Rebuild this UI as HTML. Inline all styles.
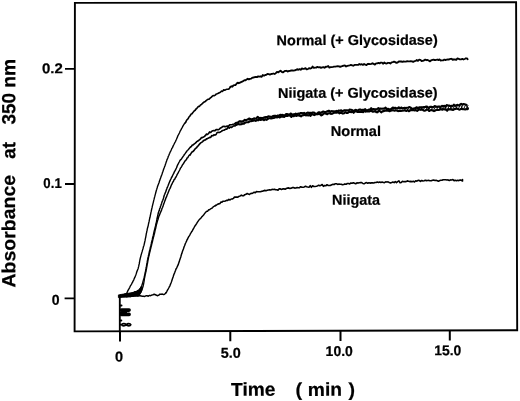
<!DOCTYPE html>
<html>
<head>
<meta charset="utf-8">
<title>Absorbance at 350 nm vs Time</title>
<style>
  html, body { margin: 0; padding: 0; background: #fff; }
  body { width: 520px; height: 401px; overflow: hidden; }
  svg { display: block; filter: grayscale(1); }
  text { font-family: "Liberation Sans", sans-serif; font-weight: bold; fill: #000; text-rendering: geometricPrecision; }
  .tick { font-size: 14px; }
  .lbl { font-size: 13px; }
  .xt { font-size: 18px; }
  .yt { font-size: 19.5px; }
</style>
</head>
<body>
<svg width="520" height="401" viewBox="0 0 520 401">
  <rect x="0" y="0" width="520" height="401" fill="#fff"/>

  <!-- plot frame (slightly skewed like the scan) -->
  <path d="M74.9 2.9 L516.1 2.3 L517.2 330.3 L74.6 331.4 Z" fill="none" stroke="#000" stroke-width="1.9"/>

  <!-- y ticks -->
  <path d="M65 68.9 H75 M65 184 H75 M64.6 298.3 H75" stroke="#000" stroke-width="1.8" fill="none"/>
  <!-- x ticks -->
  <path d="M120.0 331 V341.6 M230.3 331 V341.2 M340.5 330.6 V340.9 M449.8 330.3 V340.6" stroke="#000" stroke-width="2" fill="none"/>

  <!-- y tick labels -->
  <text transform="translate(41.90 73.30) rotate(-0.15) scale(1.0590 1)" font-size="14.2" stroke="#000" stroke-width="0.22" stroke-linejoin="round">0.2</text>
  <text transform="translate(43.37 188.10) rotate(-0.15) scale(0.9319 1)" font-size="14.2" stroke="#000" stroke-width="0.22" stroke-linejoin="round">0.1</text>
  <text transform="translate(51.84 304.70) rotate(-0.15) scale(0.9933 1)" font-size="14.2" stroke="#000" stroke-width="0.22" stroke-linejoin="round">0</text>

  <!-- x tick labels -->
  <text transform="translate(114.92 361.60) rotate(-0.15) scale(1.0230 1)" font-size="14.2" stroke="#000" stroke-width="0.22" stroke-linejoin="round">0</text>
  <text transform="translate(220.83 357.80) rotate(-0.15) scale(1.0156 1)" font-size="14.2" stroke="#000" stroke-width="0.22" stroke-linejoin="round">5.0</text>
  <text transform="translate(325.62 356.10) rotate(-0.15) scale(0.9861 1)" font-size="14.2" stroke="#000" stroke-width="0.22" stroke-linejoin="round">10.0</text>
  <text transform="translate(434.23 355.20) rotate(-0.15) scale(0.9823 1)" font-size="14.2" stroke="#000" stroke-width="0.22" stroke-linejoin="round">15.0</text>

  <!-- axis titles -->
  <text transform="translate(231.06 395.90) rotate(-0.15) scale(1.0217 1)" font-size="18.8" stroke="#000" stroke-width="0.22" stroke-linejoin="round">Time</text>
  <text transform="translate(295.50 395.90) rotate(-0.15) scale(1.0638 1)" font-size="18.8" stroke="#000" stroke-width="0.22" stroke-linejoin="round">(</text>
  <text transform="translate(307.75 395.90) rotate(-0.15) scale(1.0268 1)" font-size="18.8" stroke="#000" stroke-width="0.22" stroke-linejoin="round">min</text>
  <text transform="translate(348.45 395.90) rotate(-0.15) scale(1.0448 1)" font-size="18.8" stroke="#000" stroke-width="0.22" stroke-linejoin="round">)</text>

  <text transform="translate(15.30 287.49) rotate(-90.15) scale(1.0250 1)" font-size="19.0" stroke="#000" stroke-width="0.22" stroke-linejoin="round">Absorbance</text>
  <text transform="translate(15.30 158.77) rotate(-90.15) scale(0.9966 1)" font-size="19.0" stroke="#000" stroke-width="0.22" stroke-linejoin="round">at</text>
  <text transform="translate(15.30 124.53) rotate(-90.15) scale(1.0002 1)" font-size="19.0" stroke="#000" stroke-width="0.22" stroke-linejoin="round">350</text>
  <text transform="translate(15.30 87.75) rotate(-90.15) scale(1.0124 1)" font-size="19.0" stroke="#000" stroke-width="0.22" stroke-linejoin="round">nm</text>

  <!-- start line + pen squiggles -->
  <path d="M119.8 295 V331" stroke="#000" stroke-width="1.85" fill="none"/>
  <path d="M120.5 305.6 h1.0 M120.5 320.4 h0.8" stroke="#000" stroke-width="2.0" stroke-linecap="round" fill="none"/>
  <path d="M121.4 310.1 h7.7 M121.4 314.4 h7.7" stroke="#000" stroke-width="3.6" stroke-linecap="round" fill="none"/>
  <path d="M120 312.2 h7" stroke="#000" stroke-width="1.6" fill="none"/>
  <path d="M121.6 324.7 c0.5 -1.5 3.4 -1.5 4.6 0 c1.2 1.5 4.1 1.5 4.6 0 c-0.5 -1.5 -3.4 -1.5 -4.6 0 c-1.2 1.5 -4.1 1.5 -4.6 0 Z M120 324.7 h2" stroke="#000" stroke-width="1.7" fill="none"/>
  <!-- blob where traces leave the baseline -->
  <path d="M118.4 294.9 L126 293.6 L134.2 292.2 L138.8 290 L141.6 286 L142.4 288 L141.4 292 L139.2 295 L130 296.9 L118.4 297.6 Z" fill="#000" stroke="#000" stroke-width="0.8" stroke-linejoin="round"/>

  <!-- traces -->
  <path d="M119.5 296.0 L120.7 295.9 L121.9 295.4 L123.0 294.8 L124.2 294.6 L125.3 293.9 L126.2 293.7 L126.9 293.0 L127.5 291.5 L128.0 290.4 L128.6 289.5 L129.2 288.4 L129.8 287.3 L130.3 286.1 L130.9 285.2 L131.5 284.3 L132.1 282.9 L132.7 282.0 L133.2 280.8 L133.8 279.8 L134.2 278.6 L134.7 277.7 L135.2 276.5 L135.6 275.5 L136.0 274.4 L136.4 273.2 L136.8 271.8 L137.2 270.9 L137.6 269.8 L138.1 268.7 L138.4 267.4 L138.7 266.4 L138.9 265.1 L139.2 264.0 L139.4 263.0 L139.6 261.6 L139.8 260.5 L140.0 259.5 L140.3 258.1 L140.6 257.0 L140.9 255.9 L141.2 254.7 L141.6 253.4 L141.9 252.4 L142.2 251.4 L142.6 249.9 L142.9 249.0 L143.2 247.8 L143.5 246.5 L143.9 245.7 L144.2 244.4 L144.5 243.0 L144.7 242.0 L145.0 240.9 L145.2 239.6 L145.4 238.5 L145.7 237.3 L145.9 236.2 L146.1 235.1 L146.3 233.6 L146.6 232.6 L146.8 231.3 L147.1 230.2 L147.3 228.9 L147.6 227.8 L147.9 226.7 L148.2 225.6 L148.4 224.5 L148.7 223.0 L149.0 221.9 L149.2 220.9 L149.5 219.4 L149.7 218.4 L150.0 217.3 L150.2 216.3 L150.4 215.1 L150.7 213.8 L150.9 212.6 L151.2 211.4 L151.4 210.5 L151.7 209.0 L152.0 207.9 L152.2 206.8 L152.5 205.6 L152.8 204.4 L153.1 203.1 L153.4 202.1 L153.6 200.9 L153.9 199.9 L154.2 198.7 L154.5 197.4 L154.8 196.4 L155.1 195.1 L155.4 194.1 L155.7 192.8 L156.0 191.7 L156.4 190.3 L156.7 189.4 L157.1 188.0 L157.4 186.8 L157.8 185.9 L158.2 184.7 L158.6 183.7 L159.0 182.8 L159.4 181.3 L159.8 180.2 L160.2 179.1 L160.6 178.0 L161.0 176.8 L161.4 175.7 L161.8 174.7 L162.2 173.5 L162.6 172.2 L163.0 171.2 L163.4 170.1 L163.8 168.8 L164.2 167.8 L164.6 166.6 L165.0 165.7 L165.4 164.4 L165.8 163.3 L166.2 162.1 L166.6 161.0 L167.0 159.6 L167.5 158.6 L167.9 157.7 L168.3 156.3 L168.8 155.5 L169.3 154.1 L169.7 153.3 L170.2 152.0 L170.7 151.1 L171.2 150.0 L171.7 148.7 L172.3 147.9 L172.8 146.9 L173.3 145.6 L173.9 144.5 L174.4 143.5 L175.0 142.3 L175.5 141.5 L176.0 140.2 L176.5 139.2 L177.0 138.0 L177.5 136.9 L177.9 135.7 L178.4 134.9 L179.0 133.7 L179.5 132.7 L180.0 131.5 L180.6 130.4 L181.2 129.4 L181.7 128.3 L182.3 127.3 L182.9 126.2 L183.5 125.2 L184.2 124.0 L184.8 123.1 L185.5 122.6" fill="none" stroke="#000" stroke-width="1.38" stroke-linejoin="round" stroke-linecap="round"/>
<path d="M185.5 122.6 L186.2 121.1 L186.8 120.0 L187.5 119.3 L188.2 118.6 L188.9 117.0 L189.7 116.3 L190.4 115.3 L191.2 114.0 L192.0 113.8 L192.7 112.7 L193.5 111.8 L194.4 110.7 L195.2 110.2 L196.0 109.0 L196.9 108.3 L197.8 107.1 L198.7 106.3 L199.5 106.4 L200.5 104.9 L201.4 104.5 L202.3 103.6 L203.3 102.7 L204.2 102.0 L205.2 101.6 L206.1 100.6 L207.1 99.9 L208.1 99.3 L209.1 99.1 L210.1 98.2 L211.1 97.4 L212.1 96.4 L213.1 95.5 L214.1 95.7 L215.2 95.1 L216.2 94.1 L217.2 93.8 L218.3 93.3 L219.3 92.7 L220.4 92.2 L221.5 91.1 L222.6 91.4 L223.7 89.8 L224.8 90.2 L225.9 89.6 L227.0 89.3 L228.1 89.3 L229.2 88.7 L230.3 87.1" fill="none" stroke="#000" stroke-width="1.6" stroke-linejoin="round" stroke-linecap="round"/>
<path d="M230.3 87.1 L231.4 86.3 L232.4 86.7 L233.5 85.4 L234.5 85.2 L235.6 85.0 L236.7 83.5 L237.7 82.7 L238.8 83.2 L239.9 82.7 L241.0 82.1 L242.1 81.7 L243.3 80.9 L244.4 80.2 L245.5 80.3 L246.6 79.5 L247.7 78.8 L248.9 79.4 L250.0 78.8 L251.2 78.6 L252.3 77.7 L253.5 77.5 L254.7 77.1 L255.8 76.9 L257.0 77.1 L258.2 76.4 L259.3 76.6 L260.5 76.3 L261.7 76.8 L262.8 75.0 L264.0 75.7 L265.2 75.0 L266.3 74.8 L267.5 73.9 L268.7 74.2 L269.9 74.6 L271.1 74.0 L272.3 73.9 L273.4 73.5 L274.6 74.0 L275.8 73.2 L277.0 71.9 L278.2 72.4 L279.3 71.6 L280.5 70.7 L281.7 71.8 L282.9 72.4 L284.1 71.6 L285.2 70.9 L286.4 70.8 L287.6 71.6 L288.8 71.0 L290.0 70.8 L291.2 70.5 L292.4 70.4 L293.6 70.6 L294.7 70.3 L295.9 70.0 L297.1 69.2 L298.3 69.8 L299.5 69.1 L300.7 69.8 L301.9 68.5 L303.1 68.9 L304.3 68.8 L305.5 68.1 L306.6 69.4 L307.8 69.1 L309.0 68.1 L310.2 68.5 L311.4 68.2 L312.6 66.6 L313.8 67.9 L315.0 67.6 L316.2 67.6 L317.4 66.9 L318.6 67.3 L319.8 67.2 L321.0 67.8 L322.2 67.4 L323.4 67.1 L324.6 67.8 L325.8 66.7 L327.0 66.8 L328.2 66.0 L329.4 67.6 L330.6 67.2 L331.8 67.1 L333.0 66.9 L334.2 66.6 L335.4 66.6 L336.6 66.3 L337.8 66.2 L339.0 66.3 L340.2 66.9 L341.4 66.4 L342.5 66.0 L343.7 65.6 L344.9 65.5 L346.1 66.5 L347.3 65.9 L348.5 65.6 L349.7 65.3 L350.9 64.9 L352.1 65.3 L353.3 65.7 L354.5 64.9 L355.7 64.9 L356.9 64.9 L358.1 64.9 L359.3 64.0 L360.5 64.6 L361.7 64.2 L362.9 64.9 L364.1 64.0 L365.3 64.6 L366.5 65.0 L367.7 64.0 L368.9 63.8 L370.1 64.1 L371.3 63.9 L372.5 63.3 L373.7 63.9 L374.9 64.6 L376.1 63.4 L377.3 63.4 L378.5 62.9 L379.6 63.4 L380.8 62.6 L382.0 62.6 L383.2 63.7 L384.4 62.5 L385.6 63.4 L386.8 63.5 L388.0 62.8 L389.2 62.9 L390.4 63.5 L391.6 62.4 L392.8 62.1 L394.0 61.6 L395.2 62.2 L396.4 62.8 L397.6 62.5 L398.8 61.5 L400.0 61.5 L401.2 61.5 L402.4 61.9 L403.6 61.5 L404.8 61.6 L406.0 61.6 L407.2 61.2 L408.4 61.3 L409.6 61.3 L410.8 61.1 L412.0 61.3 L413.2 61.9 L414.4 61.2 L415.6 60.9 L416.8 60.0 L418.0 60.9 L419.2 59.7 L420.4 59.9 L421.6 61.0 L422.8 60.9 L424.0 60.4 L425.2 59.6 L426.4 60.2 L427.6 60.0 L428.8 60.6 L430.0 61.4 L431.2 60.3 L432.4 59.8 L433.6 59.6 L434.8 60.1 L436.0 60.0 L437.2 59.5 L438.4 60.1 L439.5 59.4 L440.7 60.5 L441.9 60.4 L443.1 60.4 L444.3 59.6 L445.5 60.0 L446.7 59.7 L447.9 59.5 L449.1 59.5 L450.3 58.9 L451.5 58.8 L452.7 59.9 L453.9 59.3 L455.1 59.5 L456.3 59.8 L457.5 58.4 L458.7 58.8 L459.9 59.3 L461.1 59.3 L462.3 58.9 L463.5 59.5 L464.7 59.0 L465.9 58.3 L467.1 58.4 L467.6 59.2" fill="none" stroke="#000" stroke-width="1.85" stroke-linejoin="round" stroke-linecap="round"/>
<path d="M119.5 296.2 L120.7 294.9 L121.9 296.1 L123.0 295.5 L124.2 295.6 L125.4 294.6 L126.5 294.3 L127.7 293.7 L128.9 295.1 L130.1 293.6 L131.2 294.1 L132.4 292.8 L133.5 292.8 L134.7 291.6 L135.8 291.7 L136.9 291.8 L138.0 290.3 L138.9 290.5 L139.7 289.4 L140.5 288.1 L141.1 287.2 L141.6 286.1 L142.0 285.1 L142.4 283.8 L142.7 282.6 L143.0 281.5 L143.3 280.3 L143.7 279.1 L144.0 278.1 L144.3 277.0 L144.5 275.6 L144.8 274.6 L145.0 273.3 L145.2 272.1 L145.5 271.2 L145.7 269.8 L145.9 268.9 L146.1 267.4 L146.4 266.4 L146.6 265.1 L146.8 263.9 L147.0 262.9 L147.2 261.6 L147.4 260.5 L147.7 259.2 L147.9 257.9 L148.2 256.9 L148.4 255.7 L148.7 254.7 L149.0 253.3 L149.2 252.2 L149.5 250.8 L149.8 250.0 L150.1 248.6 L150.3 247.3 L150.6 246.4 L150.9 245.4 L151.2 243.9 L151.4 242.7 L151.7 241.6 L152.0 240.4 L152.3 239.4 L152.5 238.1 L152.8 237.0 L153.1 235.9 L153.4 234.6 L153.6 233.6 L153.9 232.2 L154.2 231.0 L154.5 229.8 L154.7 229.1 L155.0 227.7 L155.3 226.6 L155.6 225.4 L155.8 224.2 L156.1 223.0 L156.4 222.1 L156.6 220.6 L156.9 219.3 L157.2 218.2" fill="none" stroke="#000" stroke-width="1.3" stroke-linejoin="round" stroke-linecap="round"/>
<path d="M157.2 218.2 L157.4 217.0 L157.7 216.1 L157.9 214.9 L158.2 213.5 L158.5 212.3 L158.9 211.3 L159.3 210.4 L159.7 208.7 L160.1 208.0 L160.4 206.7 L160.8 205.8 L161.2 204.4 L161.6 203.4 L162.0 202.1 L162.4 201.0 L162.8 200.2 L163.2 199.0 L163.6 197.7 L163.9 196.5 L164.3 195.2 L164.7 194.3 L165.1 193.2 L165.6 192.1 L166.0 190.9 L166.4 189.7 L166.8 188.7 L167.2 187.6 L167.7 186.6 L168.1 185.6 L168.6 184.2 L169.1 183.0 L169.5 182.0 L170.0 180.9 L170.5 179.8 L171.0 178.8 L171.5 177.5 L172.1 176.7 L172.6 175.5 L173.1 174.5 L173.7 173.4 L174.2 172.2 L174.8 171.1 L175.4 170.2 L175.9 169.0 L176.4 168.0 L176.9 166.9 L177.3 165.6 L177.8 164.7 L178.4 163.5 L178.9 162.5 L179.5 161.5 L180.2 160.1 L180.9 159.6 L181.6 158.7 L182.3 157.6 L183.0 156.6 L183.7 155.6 L184.4 154.5 L185.1 153.6 L185.8 152.6 L186.5 151.8 L187.2 150.5 L188.0 150.0 L188.8 149.0 L189.6 148.1 L190.4 147.1" fill="none" stroke="#000" stroke-width="1.45" stroke-linejoin="round" stroke-linecap="round"/>
<path d="M190.4 147.1 L191.3 146.6 L192.2 145.1 L193.1 145.0 L194.0 144.1 L195.0 143.4 L195.9 142.7 L196.8 141.6 L197.8 141.0 L198.7 140.5 L199.6 139.7 L200.6 138.9 L201.5 137.5 L202.5 137.6 L203.5 137.1 L204.5 136.4 L205.5 135.4 L206.5 134.1 L207.5 134.5 L208.6 133.5 L209.6 131.9 L210.7 132.5 L211.8 131.2 L212.8 130.8 L213.9 130.5 L215.0 130.8 L216.1 129.6 L217.2 129.5 L218.3 129.7 L219.4 129.1 L220.6 127.9 L221.7 127.4 L222.8 126.5 L223.9 126.4 L225.1 126.6 L226.3 126.4 L227.4 126.0 L228.6 126.1 L229.7 124.9 L230.8 124.8 L232.0 124.7 L233.1 124.2 L234.2 124.0 L235.4 123.4" fill="none" stroke="#000" stroke-width="1.65" stroke-linejoin="round" stroke-linecap="round"/>
<path d="M235.4 123.4 L236.5 122.7 L237.7 122.7 L238.8 121.8 L240.0 121.1 L241.1 121.8 L242.3 121.2 L243.5 121.1 L244.6 119.9 L245.8 120.2 L246.9 119.8 L248.1 119.3 L249.3 118.5 L250.5 119.1 L251.6 119.5 L252.8 119.1 L254.0 118.4 L255.2 118.5 L256.4 118.7 L257.6 116.8 L258.8 117.9 L260.0 118.0 L261.1 117.9 L262.3 118.3 L263.5 117.8 L264.7 117.3 L265.9 117.1 L267.1 117.2 L268.3 116.4 L269.5 116.5 L270.7 116.8 L271.8 117.1 L273.0 116.0 L274.2 115.9 L275.4 115.8 L276.6 116.3 L277.8 115.5 L279.0 116.1 L280.2 114.8 L281.4 115.1 L282.6 114.9 L283.8 115.3 L285.0 115.3 L286.2 114.0 L287.4 114.1 L288.6 114.7 L289.8 114.1 L290.9 113.5 L292.1 114.7 L293.3 114.3 L294.5 114.2 L295.7 113.6 L296.9 114.3 L298.1 113.6 L299.3 114.1 L300.5 113.1 L301.7 113.0 L302.9 113.5 L304.1 112.9 L305.3 113.6 L306.5 113.3 L307.7 112.6 L308.9 113.1 L310.1 112.8 L311.3 113.3 L312.5 112.5 L313.7 112.5 L314.9 113.2 L316.1 113.7 L317.3 113.5 L318.5 112.4 L319.7 112.4 L320.9 113.0 L322.1 112.1 L323.3 111.6 L324.5 112.0 L325.7 112.1 L326.9 111.4 L328.1 110.9 L329.3 110.9 L330.4 111.8 L331.6 111.1 L332.8 111.3 L334.0 111.4 L335.2 111.5 L336.4 110.9 L337.6 111.3 L338.8 110.5 L340.0 110.7 L341.2 110.3 L342.4 111.3 L343.6 110.6 L344.8 110.2 L346.0 110.3 L347.2 110.3 L348.4 110.7 L349.6 109.5 L350.8 109.7 L352.0 110.0 L353.2 111.3 L354.4 110.5 L355.6 109.9 L356.8 110.2 L358.0 110.8 L359.2 109.6 L360.4 109.5 L361.6 110.2 L362.8 109.8 L364.0 109.9 L365.2 109.2 L366.4 110.4 L367.6 110.2 L368.8 109.6 L370.0 109.6 L371.2 108.2 L372.4 109.5 L373.6 109.1 L374.8 109.3 L376.0 109.4 L377.2 108.9 L378.4 108.2 L379.6 109.1 L380.8 108.6 L382.0 108.7 L383.2 108.5 L384.4 108.6 L385.6 107.6 L386.8 109.3 L388.0 108.8 L389.2 109.2 L390.4 109.6 L391.6 108.6 L392.8 107.6 L394.0 108.0 L395.2 107.8 L396.4 108.2 L397.6 108.4 L398.8 107.3 L400.0 108.4 L401.2 107.5 L402.4 108.3 L403.6 108.1 L404.8 107.9 L406.0 108.0 L407.2 107.7 L408.4 107.6 L409.6 107.1 L410.8 107.8 L412.0 108.7 L413.2 108.7 L414.4 108.3 L415.6 108.0 L416.8 107.3 L418.0 108.2 L419.2 107.4 L420.4 107.4 L421.6 107.2 L422.7 107.4 L423.9 107.0 L425.1 107.1 L426.3 106.6 L427.5 106.9 L428.7 108.1 L429.9 106.9 L431.1 106.8 L432.3 107.1 L433.5 107.1 L434.7 106.1 L435.9 106.5 L437.1 107.0 L438.3 106.6 L439.5 106.5 L440.7 107.1 L441.9 105.9 L443.1 106.2 L444.3 105.9 L445.5 106.8 L446.7 105.0 L447.9 105.6 L449.1 105.5 L450.3 106.1 L451.5 105.9 L452.7 106.2 L453.9 104.7 L455.1 105.8 L456.3 105.2 L457.5 104.9 L458.7 105.4 L459.9 104.6 L461.1 103.9 L462.3 104.7 L463.5 104.0 L464.7 104.3 L465.9 104.7 L466.5 104.7" fill="none" stroke="#000" stroke-width="2.15" stroke-linejoin="round" stroke-linecap="round"/>
<path d="M119.5 297.6 L120.7 296.7 L121.9 296.0 L123.1 296.4 L124.3 296.2 L125.5 296.0 L126.7 296.8 L127.9 296.2 L129.1 295.5 L130.3 296.7 L131.5 296.2 L132.8 296.3 L134.1 296.0 L135.3 296.1 L136.5 295.5 L137.6 295.8 L138.6 295.1 L139.5 294.4 L140.2 293.4 L140.9 292.0 L141.4 291.1 L141.9 290.0 L142.3 288.9 L142.7 287.6 L143.0 286.8 L143.3 285.4 L143.6 284.1 L143.8 282.8 L144.0 281.8 L144.2 280.7 L144.4 279.4 L144.5 278.3 L144.8 277.1 L145.0 276.0 L145.2 274.7 L145.5 273.6 L145.7 272.6 L146.0 271.6 L146.2 270.0 L146.5 268.9 L146.7 267.6 L146.9 266.7 L147.1 265.2 L147.3 264.1 L147.6 263.0 L147.8 261.7 L148.0 260.5 L148.2 259.4 L148.5 258.0 L148.7 256.9 L149.0 255.9 L149.2 254.8 L149.5 253.6 L149.8 252.2 L150.1 251.2 L150.3 250.2 L150.6 249.0 L150.9 247.8 L151.2 246.5 L151.5 245.5 L151.8 244.2 L152.1 243.0 L152.4 241.9 L152.6 241.0 L152.9 239.7 L153.2 238.6 L153.5 237.2 L153.8 236.3 L154.1 234.9 L154.4 233.8 L154.6 233.0 L154.9 231.6 L155.2 230.2 L155.5 229.1 L155.8 228.0 L156.0 226.9 L156.3 225.6 L156.6 224.2 L156.9 223.3 L157.2 222.1 L157.5 221.0 L157.8 220.0 L158.1 218.7" fill="none" stroke="#000" stroke-width="1.3" stroke-linejoin="round" stroke-linecap="round"/>
<path d="M158.1 218.7 L158.5 217.6 L158.9 216.2 L159.3 215.4 L159.7 214.4 L160.2 213.1 L160.7 212.0 L161.2 210.9 L161.6 209.9 L162.0 208.5 L162.5 207.5 L162.9 206.4 L163.3 205.3 L163.7 204.0 L164.1 203.0 L164.5 201.8 L164.9 200.7 L165.4 199.6 L165.8 198.3 L166.2 197.4 L166.7 196.4 L167.1 195.0 L167.6 194.0 L168.0 193.0 L168.5 191.7 L168.9 190.7 L169.4 189.4 L169.9 188.6 L170.4 187.7 L170.8 186.5 L171.3 185.2 L171.9 184.2 L172.4 183.0 L172.9 182.0 L173.5 181.2 L174.1 179.6 L174.8 179.1 L175.4 177.8 L176.0 177.0 L176.6 175.8 L177.1 174.6 L177.7 173.7 L178.2 172.7 L178.8 171.5 L179.4 170.5 L180.0 169.3 L180.5 168.0 L181.1 167.5 L181.7 166.4 L182.3 165.2 L183.0 164.2 L183.6 163.4 L184.3 162.1 L185.0 161.0 L185.7 160.2 L186.4 159.6 L187.1 157.9 L187.8 157.7 L188.6 156.2 L189.3 155.2 L190.1 154.9" fill="none" stroke="#000" stroke-width="1.45" stroke-linejoin="round" stroke-linecap="round"/>
<path d="M190.1 154.9 L190.9 153.6 L191.7 152.4 L192.5 151.7 L193.3 151.2 L194.1 150.4 L194.9 149.1 L195.7 148.4 L196.6 147.7 L197.4 146.4 L198.2 145.8 L199.0 144.8 L199.8 143.8 L200.7 142.9 L201.6 142.4 L202.6 141.6 L203.5 140.7 L204.5 140.0 L205.5 139.9 L206.5 138.9 L207.5 138.6 L208.6 138.1 L209.6 137.3 L210.7 137.4 L211.7 135.6 L212.8 135.8 L213.9 134.8 L215.0 135.1 L216.1 134.5 L217.1 132.5 L218.2 132.4 L219.3 132.5 L220.3 132.0 L221.4 131.4 L222.5 130.5 L223.6 130.3 L224.7 129.9 L225.8 129.1 L226.9 129.2 L228.0 127.3 L229.2 128.2 L230.3 127.0 L231.4 127.5 L232.6 126.6 L233.7 125.9 L234.8 126.0 L235.9 125.1" fill="none" stroke="#000" stroke-width="1.65" stroke-linejoin="round" stroke-linecap="round"/>
<path d="M235.9 125.1 L237.1 124.6 L238.2 124.0 L239.4 124.3 L240.5 124.3 L241.7 124.2 L242.8 123.4 L244.0 123.6 L245.1 122.7 L246.3 122.3 L247.4 122.2 L248.6 122.1 L249.7 121.2 L250.9 121.1 L252.1 120.9 L253.3 120.8 L254.5 120.2 L255.7 120.9 L256.9 120.1 L258.0 120.3 L259.2 119.5 L260.4 119.9 L261.6 119.7 L262.8 119.2 L264.0 120.2 L265.2 119.2 L266.4 119.8 L267.5 119.2 L268.7 118.3 L269.9 118.2 L271.1 118.5 L272.3 118.2 L273.5 118.0 L274.7 117.7 L275.9 116.8 L277.1 117.5 L278.3 116.4 L279.5 117.5 L280.7 116.8 L281.8 116.7 L283.0 116.8 L284.2 116.9 L285.4 116.0 L286.6 115.7 L287.8 115.9 L289.0 115.3 L290.2 115.8 L291.4 116.9 L292.6 115.5 L293.8 116.2 L295.0 115.2 L296.2 115.9 L297.4 115.5 L298.6 115.5 L299.8 115.7 L301.0 116.3 L302.2 115.4 L303.4 115.3 L304.6 114.7 L305.8 115.4 L307.0 114.9 L308.2 115.4 L309.4 114.9 L310.6 115.8 L311.8 113.9 L313.0 114.6 L314.2 115.1 L315.4 114.5 L316.5 114.2 L317.7 114.3 L318.9 113.7 L320.1 114.3 L321.3 115.4 L322.5 114.7 L323.7 113.5 L324.9 113.5 L326.1 113.6 L327.3 114.2 L328.5 113.2 L329.7 113.2 L330.9 113.9 L332.1 113.8 L333.3 113.1 L334.5 112.7 L335.7 112.4 L336.9 112.7 L338.1 111.9 L339.3 113.3 L340.5 112.5 L341.7 113.0 L342.9 113.6 L344.1 113.2 L345.3 112.0 L346.5 112.9 L347.7 113.0 L348.9 112.0 L350.1 111.8 L351.3 112.2 L352.5 111.4 L353.7 112.8 L354.9 110.9 L356.1 111.4 L357.3 111.8 L358.5 111.8 L359.7 111.9 L360.9 111.9 L362.1 111.6 L363.3 112.2 L364.5 110.5 L365.7 111.6 L366.9 111.2 L368.1 111.5 L369.3 111.5 L370.5 110.9 L371.7 111.0 L372.9 111.7 L374.1 111.4 L375.2 110.9 L376.4 112.2 L377.6 112.3 L378.8 110.4 L380.0 111.2 L381.2 112.3 L382.4 111.4 L383.6 111.1 L384.8 110.8 L386.0 110.6 L387.2 110.7 L388.4 110.5 L389.6 111.2 L390.8 110.6 L392.0 110.5 L393.2 110.1 L394.4 110.7 L395.6 110.2 L396.8 110.6 L398.0 111.1 L399.2 110.8 L400.4 110.8 L401.6 110.8 L402.8 110.6 L404.0 110.5 L405.2 110.4 L406.4 110.9 L407.6 110.0 L408.8 111.2 L410.0 110.5 L411.2 110.1 L412.4 110.2 L413.6 110.1 L414.8 110.5 L416.0 110.0 L417.2 110.9 L418.4 110.0 L419.6 109.2 L420.8 109.9 L422.0 109.3 L423.2 110.2 L424.4 110.7 L425.6 110.5 L426.8 109.5 L428.0 109.7 L429.2 111.0 L430.4 110.2 L431.6 110.0 L432.8 110.5 L434.0 111.1 L435.2 110.5 L436.4 109.9 L437.6 110.0 L438.8 110.0 L440.0 109.4 L441.2 109.1 L442.4 109.7 L443.6 109.1 L444.8 109.5 L446.0 109.6 L447.2 110.7 L448.4 109.1 L449.6 109.4 L450.8 109.4 L452.0 109.6 L453.2 109.9 L454.4 109.1 L455.6 108.9 L456.8 108.5 L458.0 108.9 L459.2 109.6 L460.4 109.3 L461.6 108.8 L462.8 109.1 L464.0 109.3 L465.2 109.5 L466.4 108.9 L467.6 109.1 L467.9 108.3" fill="none" stroke="#000" stroke-width="2.15" stroke-linejoin="round" stroke-linecap="round"/>
<path d="M119.5 296.1 L120.7 297.0 L121.9 295.5 L123.1 296.1 L124.3 296.2 L125.5 295.9 L126.7 295.7 L127.9 295.9 L129.1 295.9 L130.3 295.8 L131.5 295.1 L132.7 295.7 L133.9 295.4 L135.1 295.5 L136.3 295.8 L137.5 295.9 L138.7 296.0 L139.9 295.5 L141.1 296.1 L142.3 296.2 L143.5 296.2 L144.7 296.4 L145.9 295.8 L147.1 295.8 L148.3 296.2 L149.5 295.4 L150.6 295.7 L151.8 295.1 L153.0 294.8 L154.2 294.3 L155.4 294.8 L156.6 295.3 L157.7 295.7 L158.8 295.1 L159.9 294.2 L161.1 294.2 L162.4 294.1 L163.5 294.6 L164.5 294.2 L165.4 293.5 L166.2 292.6" fill="none" stroke="#000" stroke-width="1.5" stroke-linejoin="round" stroke-linecap="round"/>
<path d="M166.2 292.6 L166.9 291.3 L167.5 290.1 L168.1 289.1 L168.7 288.0 L169.2 287.0 L169.8 286.1 L170.2 284.9 L170.7 283.7 L171.1 282.8 L171.5 281.7 L171.9 280.4 L172.3 279.2 L172.7 278.1 L173.1 277.0 L173.4 275.9 L173.8 274.8 L174.2 273.7 L174.7 272.6 L175.1 271.5 L175.6 270.3 L176.0 269.0 L176.6 268.1 L177.1 267.0 L177.6 265.9 L178.1 264.9 L178.5 263.7 L178.9 262.5 L179.3 261.6 L179.6 260.3 L180.0 259.2 L180.4 258.1 L180.8 257.0 L181.1 255.7 L181.5 254.3 L181.9 253.4 L182.2 252.2 L182.6 251.1 L183.0 250.0 L183.4 249.0 L183.8 247.7 L184.2 246.5 L184.6 245.7 L185.1 244.3 L185.5 243.2 L186.0 242.2 L186.5 241.1 L187.0 239.9 L187.6 239.0 L188.1 237.8 L188.7 236.7 L189.3 235.8 L189.9 234.8 L190.5 233.6 L191.1 232.7 L191.7 231.6 L192.3 231.0 L192.9 229.5 L193.5 228.7 L194.1 227.5 L194.7 226.4 L195.3 225.5 L196.0 224.5 L196.6 223.6 L197.3 222.4 L198.0 221.3 L198.7 220.3 L199.4 219.6 L200.2 218.7 L201.0 218.0 L201.8 216.8 L202.6 216.1 L203.4 215.3 L204.2 214.1 L205.1 212.9 L205.9 212.1 L206.8 211.2 L207.7 211.2 L208.6 209.8 L209.6 209.7 L210.6 208.8 L211.6 208.4 L212.6 207.6 L213.6 206.6 L214.6 206.0 L215.7 205.5" fill="none" stroke="#000" stroke-width="1.45" stroke-linejoin="round" stroke-linecap="round"/>
<path d="M215.7 205.5 L216.7 204.9 L217.8 204.2 L218.8 203.7 L219.9 203.6 L221.0 202.0 L222.0 202.1 L223.1 201.2 L224.2 201.2 L225.4 201.0 L226.5 200.4 L227.7 200.4 L228.9 199.3 L230.0 200.0 L231.2 199.0 L232.3 199.0 L233.4 198.4 L234.5 197.0 L235.6 197.1 L236.7 197.0 L237.9 197.1 L239.0 196.3 L240.2 196.0 L241.3 195.1 L242.5 195.8 L243.7 195.7 L244.8 194.7 L246.0 194.3 L247.2 193.5 L248.3 194.1 L249.5 194.5 L250.6 193.5 L251.8 193.4 L253.0 192.9 L254.2 192.2 L255.3 192.7 L256.5 191.6 L257.7 191.8 L258.9 191.7 L260.1 191.8 L261.3 191.4 L262.5 191.3 L263.6 190.7 L264.8 190.4 L266.0 190.7 L267.2 190.3 L268.4 190.0 L269.6 189.9 L270.8 190.0 L272.0 189.4 L273.2 189.5 L274.4 189.2 L275.6 189.8 L276.8 189.7 L278.0 190.2 L279.2 188.8 L280.4 188.9 L281.5 189.4 L282.7 188.9 L283.9 188.7 L285.1 189.3 L286.3 188.5 L287.5 188.1 L288.7 187.9 L289.9 188.4 L291.1 188.3 L292.3 187.6 L293.5 187.6 L294.7 188.1 L295.9 188.0 L297.1 187.5 L298.3 187.8 L299.5 187.7 L300.7 186.7 L301.9 187.2 L303.1 187.3 L304.3 186.9 L305.5 186.2 L306.6 186.7 L307.8 187.0 L309.0 187.2 L310.2 185.7 L311.4 187.3 L312.6 185.8 L313.8 186.5 L315.0 186.5 L316.2 186.3 L317.4 185.9 L318.6 185.3 L319.8 185.8 L321.0 185.2 L322.2 184.5 L323.4 186.4 L324.6 185.5 L325.8 185.8 L327.0 184.7 L328.2 185.5 L329.4 185.5 L330.6 185.4 L331.8 184.7 L333.0 184.2 L334.2 184.5 L335.4 183.7 L336.5 183.8 L337.7 184.4 L338.9 184.0 L340.1 184.2 L341.3 184.2 L342.5 184.8 L343.7 184.5 L344.9 183.9 L346.1 184.3 L347.3 183.5 L348.5 183.5 L349.7 183.9 L350.9 183.0 L352.1 183.3 L353.3 182.8 L354.5 183.3 L355.7 183.8 L356.9 182.8 L358.1 183.1 L359.3 182.7 L360.5 182.6 L361.7 182.5 L362.9 183.5 L364.1 183.8 L365.3 183.1 L366.5 182.6 L367.7 183.2 L368.9 182.7 L370.1 183.1 L371.3 182.9 L372.5 182.9 L373.7 183.0 L374.9 182.5 L376.1 182.5 L377.3 182.0 L378.5 182.4 L379.7 182.0 L380.9 182.5 L382.1 182.1 L383.3 182.5 L384.5 182.6 L385.7 181.8 L386.9 182.0 L388.1 181.9 L389.3 182.5 L390.5 182.9 L391.7 182.5 L392.9 182.0 L394.1 182.6 L395.3 181.5 L396.5 182.6 L397.7 181.7 L398.9 180.8 L400.1 182.8 L401.3 182.4 L402.5 181.3 L403.7 181.7 L404.9 181.5 L406.1 181.6 L407.3 180.9 L408.5 181.2 L409.7 181.6 L410.9 181.4 L412.1 181.7 L413.3 181.2 L414.5 182.0 L415.7 180.8 L416.9 181.2 L418.1 180.3 L419.3 180.5 L420.5 181.4 L421.7 180.5 L422.9 181.0 L424.1 180.8 L425.3 180.3 L426.5 180.6 L427.7 180.5 L428.9 180.4 L430.1 180.8 L431.3 180.8 L432.5 180.3 L433.7 180.1 L434.9 180.5 L436.1 180.3 L437.3 180.7 L438.5 181.3 L439.7 180.6 L440.9 180.2 L442.1 180.1 L443.3 179.8 L444.5 179.8 L445.7 179.7 L446.9 180.0 L448.1 179.9 L449.3 180.4 L450.5 179.9 L451.7 180.0 L452.9 179.6 L454.1 180.7 L455.3 180.2 L456.5 180.7 L457.7 180.3 L458.9 180.6 L460.1 179.9 L461.3 180.3 L462.5 181.0 L462.5 179.5" fill="none" stroke="#000" stroke-width="1.6" stroke-linejoin="round" stroke-linecap="round"/>
  <path d="M404.0 110.3 L406.0 108.5 M406.7 110.3 L408.7 108.3 M409.4 110.2 L411.4 108.2 M412.1 110.2 L414.1 108.0 M414.8 110.1 L416.8 107.9 M417.5 110.1 L419.5 107.7 M420.2 110.1 L422.2 107.6 M422.9 110.0 L424.9 107.4 M425.6 110.0 L427.6 107.3 M428.3 110.0 L430.3 107.1 M431.0 109.9 L433.0 107.0 M433.7 109.9 L435.7 106.8 M436.4 109.8 L438.4 106.7 M439.1 109.8 L441.1 106.5 M439.1 106.5 L441.1 109.8 M441.8 109.8 L443.8 106.4 M444.5 109.7 L446.5 106.2 M444.5 106.2 L446.5 109.7 M447.2 109.7 L449.2 106.1 M449.9 109.7 L451.9 105.9 M449.9 105.9 L451.9 109.7 M452.6 109.6 L454.6 105.8 M455.3 109.6 L457.3 105.6 M455.3 105.6 L457.3 109.6 M458.0 109.5 L460.0 105.5 M460.7 109.5 L462.7 105.3 M460.7 105.3 L462.7 109.5 M463.4 109.5 L465.4 105.2 M466.1 109.4 L468.1 105.0 M466.1 105.0 L468.1 109.4" fill="none" stroke="#000" stroke-width="0.95"/>

  <!-- trace labels -->
  <text transform="translate(276.62 45.20) rotate(-0.15) scale(1.0111 1)" font-size="14.3" stroke="#000" stroke-width="0.22" stroke-linejoin="round">Normal (+ Glycosidase)</text>
  <text transform="translate(277.92 97.90) rotate(-0.15) scale(1.0129 1)" font-size="14.3" stroke="#000" stroke-width="0.22" stroke-linejoin="round">Niigata (+ Glycosidase)</text>
  <text transform="translate(330.71 136.00) rotate(-0.15) scale(1.0212 1)" font-size="14.3" stroke="#000" stroke-width="0.22" stroke-linejoin="round">Normal</text>
  <text transform="translate(332.03 204.80) rotate(-0.15) scale(1.0086 1)" font-size="14.3" stroke="#000" stroke-width="0.22" stroke-linejoin="round">Niigata</text>
</svg>
</body>
</html>
